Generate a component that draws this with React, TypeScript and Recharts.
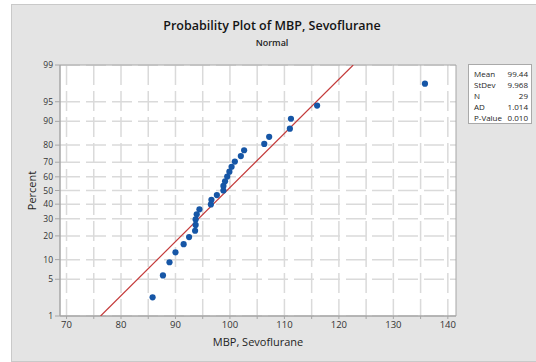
import React from "react";
import {
  ComposedChart,
  Scatter,
  XAxis,
  YAxis,
  CartesianGrid,
  ReferenceArea,
} from "recharts";

const mbpValues = [
  85.8, 87.7, 88.9, 90.0, 91.5, 92.5, 93.6, 93.7, 93.7, 93.9, 94.4, 96.5, 96.6,
  97.6, 98.8, 98.8, 99.1, 99.5, 99.9, 100.3, 100.9, 102.0, 102.6, 106.3, 107.2,
  111.0, 111.2, 116.0, 135.8,
];
// Plotted percent positions (median ranks) for each observation
const percentPositions = [
  2.38, 5.78, 9.18, 12.59, 15.99, 19.39, 22.79, 26.19, 29.59, 32.99, 36.39,
  39.8, 43.2, 46.6, 50.0, 53.4, 56.8, 60.2, 63.61, 67.01, 70.41, 73.81, 77.21,
  80.61, 84.01, 87.41, 90.82, 94.22, 97.62,
];
// Fitted normal line endpoints (percent, MBP)
const fitPercents = [1, 99];
const fitValues = [76.25, 122.63];

const yTickPercents = [1, 5, 10, 20, 30, 40, 50, 60, 70, 80, 90, 95, 99];
const xTicks = [70, 75, 80, 85, 90, 95, 100, 105, 110, 115, 120, 125, 130, 135, 140];
const xTickLabels = [70, 80, 90, 100, 110, 120, 130, 140];

const statNames = ["Mean", "StDev", "N", "AD", "P-Value"];
const statValues = ["99.44", "9.968", "29", "1.014", "0.010"];

const titleText = "Probability Plot of MBP, Sevoflurane";
const subtitleText = "Normal";
const xLabel = "MBP, Sevoflurane";
const yLabel = "Percent";

// Inverse standard normal CDF (Acklam) — probability-scale transform
function probit(p: number): number {
  const a = [-39.69683028665376, 220.9460984245205, -275.9285104469687, 138.357751867269, -30.66479806614716, 2.506628277459239];
  const b = [-54.47609879822406, 161.5858368580409, -155.6989798598866, 66.80131188771972, -13.28068155288572];
  const c = [-0.007784894002430293, -0.3223964580411365, -2.400758277161838, -2.549732539343734, 4.374664141464968, 2.938163982698783];
  const d = [0.007784695709041462, 0.3224671290700398, 2.445134137142996, 3.754408661907416];
  const pl = 0.02425;
  if (p < pl) {
    const q = Math.sqrt(-2 * Math.log(p));
    return (((((c[0] * q + c[1]) * q + c[2]) * q + c[3]) * q + c[4]) * q + c[5]) /
      ((((d[0] * q + d[1]) * q + d[2]) * q + d[3]) * q + 1);
  }
  if (p > 1 - pl) {
    const q = Math.sqrt(-2 * Math.log(1 - p));
    return -(((((c[0] * q + c[1]) * q + c[2]) * q + c[3]) * q + c[4]) * q + c[5]) /
      ((((d[0] * q + d[1]) * q + d[2]) * q + d[3]) * q + 1);
  }
  const q = p - 0.5;
  const r = q * q;
  return (((((a[0] * r + a[1]) * r + a[2]) * r + a[3]) * r + a[4]) * r + a[5]) * q /
    (((((b[0] * r + b[1]) * r + b[2]) * r + b[3]) * r + b[4]) * r + 1);
}

const z = (pct: number) => probit(pct / 100);

const points = mbpValues.map((v, i) => ({ x: v, y: z(percentPositions[i]) }));
const fitData = fitValues.map((v, i) => ({ x: v, y: z(fitPercents[i]) }));
const yTicks = yTickPercents.map(z);
const yMin = z(yTickPercents[0]);
const yMax = z(yTickPercents[yTickPercents.length - 1]);
const xMin = 68.8;
const xMax = 141.5;

const fmtY = (v: number) => {
  let best = 0;
  let bd = Infinity;
  yTicks.forEach((t, i) => {
    const dd = Math.abs(t - v);
    if (dd < bd) {
      bd = dd;
      best = i;
    }
  });
  return String(yTickPercents[best]);
};
const fmtX = (v: number) => (xTickLabels.includes(v) ? String(v) : "");

const FONT = "'Open Sans', 'Noto Sans', sans-serif";

const Dot = (props: any) => {
  const { cx, cy } = props;
  if (cx == null || cy == null) return <g />;
  return <circle cx={cx} cy={cy} r={3.1} fill="#1656a6" />;
};
const NoDot = () => <g />;

export default function App() {
  return (
    <div style={{ position: "relative", width: 536, height: 362, overflow: "hidden", background: "#fff", fontFamily: FONT }}>
      <style>{`body{margin:0}`}</style>
      <div
        style={{
          position: "absolute",
          left: 11,
          top: 4,
          width: 540,
          height: 356,
          background: "#e4e4e4",
          border: "1px solid #c9c9c9",
        }}
      />
      <div
        style={{
          position: "absolute",
          left: 0,
          width: 544,
          top: 18,
          textAlign: "center",
          fontSize: 12.5,
          color: "#141414",
          fontWeight: 600,
          lineHeight: "16px",
        }}
      >
        {titleText}
      </div>
      <div
        style={{
          position: "absolute",
          left: 0,
          width: 544,
          top: 37,
          textAlign: "center",
          fontSize: 9,
          color: "#1e1e1e",
          fontWeight: 600,
          lineHeight: "12px",
        }}
      >
        {subtitleText}
      </div>
      <div style={{ position: "absolute", left: 0, top: 0 }}>
        <ComposedChart
          width={536}
          height={362}
          margin={{ top: 65, right: 80, bottom: 16, left: 0 }}
        >
          <CartesianGrid
            fill="#ffffff"
            stroke="#dadada"
            strokeWidth={1.5}
            strokeDasharray="20 6"
            horizontalValues={yTicks}
            verticalValues={xTicks}
          />
          <XAxis
            type="number"
            dataKey="x"
            domain={[xMin, xMax]}
            allowDataOverflow
            ticks={xTicks}
            interval={0}
            tickFormatter={fmtX}
            tickSize={3}
            tick={{ fontSize: 9.5, fill: "#333", fontFamily: FONT }}
            axisLine={{ stroke: "#a6a6a6" }}
            tickLine={{ stroke: "#a6a6a6" }}
            height={30}
            label={{
              value: xLabel,
              position: "insideBottom",
              offset: 0,
              style: { fontSize: 11, fill: "#1e1e1e", fontFamily: FONT },
            }}
          />
          <YAxis
            type="number"
            dataKey="y"
            domain={[yMin, yMax]}
            allowDataOverflow
            ticks={yTicks}
            interval={0}
            tickFormatter={fmtY}
            tickSize={5}
            width={60}
            tick={{ fontSize: 8.5, fill: "#333", fontFamily: FONT }}
            axisLine={{ stroke: "#a6a6a6" }}
            tickLine={{ stroke: "#a6a6a6" }}
            label={{
              value: yLabel,
              angle: -90,
              position: "insideLeft",
              offset: 0,
              dx: 32,
              style: { textAnchor: "middle", fontSize: 11, fill: "#1e1e1e", fontFamily: FONT },
            }}
          />
          <ReferenceArea
            x1={xMin}
            x2={xMax}
            y1={yMin}
            y2={yMax}
            fill="none"
            fillOpacity={0}
            stroke="#a6a6a6"
            strokeWidth={1}
            ifOverflow="visible"
          />
          <Scatter
            data={fitData}
            line={{ stroke: "#c43a3a", strokeWidth: 1.2 }}
            shape={<NoDot />}
            isAnimationActive={false}
          />
          <Scatter data={points} shape={<Dot />} isAnimationActive={false} />
        </ComposedChart>
      </div>
      <div
        style={{
          position: "absolute",
          left: 468,
          top: 64,
          width: 64,
          height: 60,
          background: "#fff",
          border: "1px solid #a9a9a9",
          boxSizing: "border-box",
          padding: "3px 3px 0 5px",
          fontSize: 8,
          lineHeight: "11px",
          color: "#1e1e1e",
        }}
      >
        {statNames.map((n, i) => (
          <div key={n} style={{ display: "flex", justifyContent: "space-between" }}>
            <span>{n}</span>
            <span>{statValues[i]}</span>
          </div>
        ))}
      </div>
    </div>
  );
}
